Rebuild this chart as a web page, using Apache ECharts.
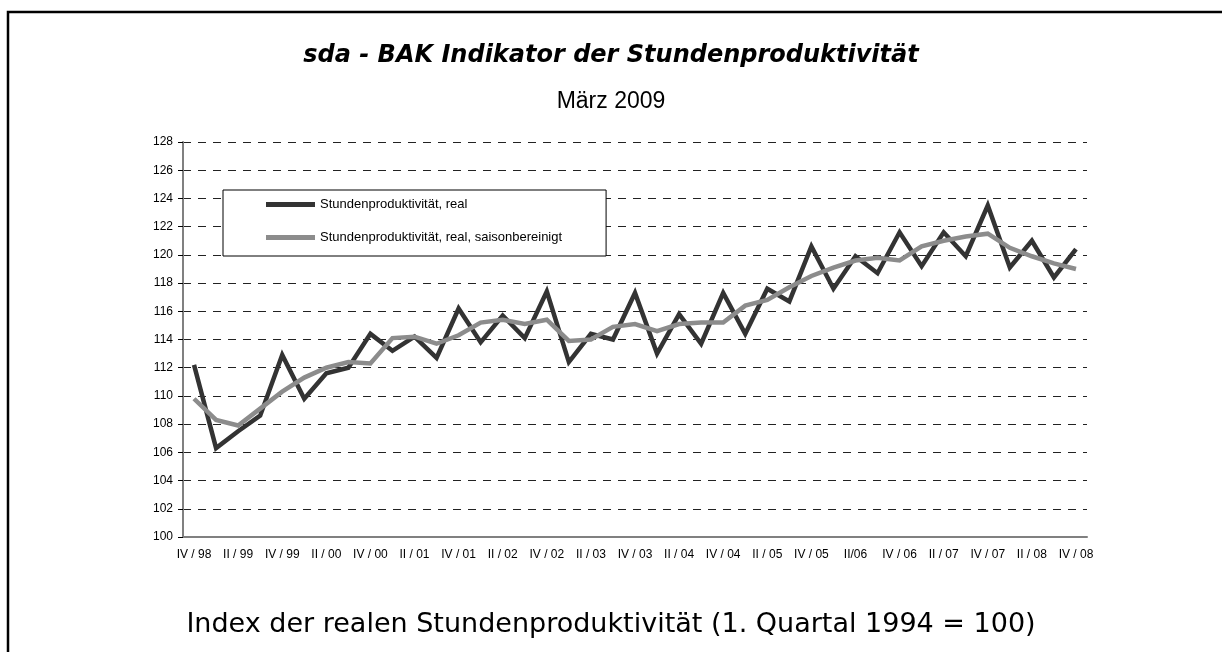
<!DOCTYPE html>
<html>
<head>
<meta charset="utf-8">
<script src="https://cdn.jsdelivr.net/npm/echarts@6/dist/echarts.min.js"></script>
<style>
  html, body { margin: 0; padding: 0; background: #fff; }
  #main { width: 1222px; height: 652px; }
</style>
</head>
<body>
<div id="main"></div>
<script>
// Quartale IV/98 .. IV/08
var quarters = [
  'IV / 98', 'I / 99', 'II / 99', 'III / 99', 'IV / 99', 'I / 00', 'II / 00', 'III / 00',
  'IV / 00', 'I / 01', 'II / 01', 'III / 01', 'IV / 01', 'I / 02', 'II / 02', 'III / 02',
  'IV / 02', 'I / 03', 'II / 03', 'III / 03', 'IV / 03', 'I / 04', 'II / 04', 'III / 04',
  'IV / 04', 'I / 05', 'II / 05', 'III / 05', 'IV / 05', 'I / 06', 'II/06', 'III / 06',
  'IV / 06', 'I / 07', 'II / 07', 'III / 07', 'IV / 07', 'I / 08', 'II / 08', 'III / 08',
  'IV / 08'
];

var real = [
  112.2, 106.3, 107.5, 108.6, 112.9, 109.8, 111.6, 112.0, 114.4, 113.2,
  114.2, 112.7, 116.2, 113.8, 115.7, 114.1, 117.4, 112.4, 114.4, 114.0,
  117.3, 113.0, 115.8, 113.7, 117.3, 114.4, 117.6, 116.7, 120.6, 117.6,
  119.9, 118.7, 121.6, 119.2, 121.6, 119.9, 123.5, 119.1, 121.0, 118.4,
  120.4
];

var saisonbereinigt = [
  109.8, 108.3, 107.9, 109.1, 110.3, 111.3, 112.0, 112.4, 112.3, 114.1,
  114.2, 113.7, 114.3, 115.2, 115.4, 115.1, 115.4, 113.9, 114.0, 114.9,
  115.1, 114.6, 115.1, 115.2, 115.2, 116.4, 116.8, 117.7, 118.5, 119.1,
  119.6, 119.8, 119.6, 120.6, 121.0, 121.3, 121.5, 120.5, 119.9, 119.4,
  119.0
];

var yMin = 100, yMax = 128, yStep = 2;

var myChart = echarts.init(document.getElementById('main'));

myChart.setOption({
  animation: false,
  backgroundColor: '#fff',
  color: ['#333333', '#8c8c8c'],
  title: [
    {
      text: 'sda - BAK Indikator der Stundenproduktivität',
      left: 'center',
      top: 39,
      textStyle: { fontFamily: 'DejaVu Sans', fontSize: 24, fontWeight: 'bold', fontStyle: 'italic', color: '#000' }
    },
    {
      text: 'März 2009',
      left: 'center',
      top: 85,
      textStyle: { fontFamily: 'Liberation Sans', fontSize: 23, fontWeight: 'normal', color: '#000' }
    },
    {
      text: 'Index der realen Stundenproduktivität (1. Quartal 1994 = 100)',
      left: 'center',
      top: 606,
      textStyle: { fontFamily: 'DejaVu Sans', fontSize: 27, fontWeight: 'normal', color: '#000' }
    }
  ],
  graphic: [
    {
      type: 'rect',
      shape: { x: 8, y: 12, width: 1400, height: 800 },
      style: { fill: 'none', stroke: '#000', lineWidth: 2.5 },
      silent: true
    }
  ],
  legend: {
    left: 223,
    top: 190,
    orient: 'vertical',
    backgroundColor: '#fff',
    borderColor: '#000',
    borderWidth: 1,
    borderRadius: 0,
    padding: [8, 44, 12, 43],
    itemWidth: 49,
    itemHeight: 5,
    itemGap: 20,
    icon: 'rect',
    textStyle: { fontFamily: 'Liberation Sans', fontSize: 13, color: '#000' },
    data: ['Stundenproduktivität, real', 'Stundenproduktivität, real, saisonbereinigt']
  },
  grid: { left: 183, right: 135, top: 142, bottom: 115 },
  xAxis: {
    type: 'category',
    data: quarters,
    boundaryGap: true,
    axisLine: { lineStyle: { color: '#808080', width: 2 } },
    axisTick: { interval: 0, length: 4, lineStyle: { color: '#000' } },
    axisLabel: { interval: 1, margin: 12, fontFamily: 'Liberation Sans', fontSize: 12, color: '#000' },
    splitLine: { show: false }
  },
  yAxis: {
    type: 'value',
    min: yMin,
    max: yMax,
    interval: yStep,
    axisLine: { show: true, lineStyle: { color: '#808080', width: 2 } },
    axisTick: { show: true, length: 5, lineStyle: { color: '#000' } },
    axisLabel: { margin: 10, fontFamily: 'Liberation Sans', fontSize: 12, color: '#000' },
    splitLine: { lineStyle: { color: '#222', type: [8, 7], width: 1 } }
  },
  series: [
    {
      name: 'Stundenproduktivität, real',
      type: 'line',
      data: real,
      showSymbol: false,
      symbol: 'none',
      lineStyle: { width: 4.5, color: '#333333', join: 'miter' },
      z: 3
    },
    {
      name: 'Stundenproduktivität, real, saisonbereinigt',
      type: 'line',
      data: saisonbereinigt,
      showSymbol: false,
      symbol: 'none',
      lineStyle: { width: 4.5, color: '#8c8c8c', join: 'miter' },
      z: 4
    }
  ]
});
</script>
</body>
</html>
